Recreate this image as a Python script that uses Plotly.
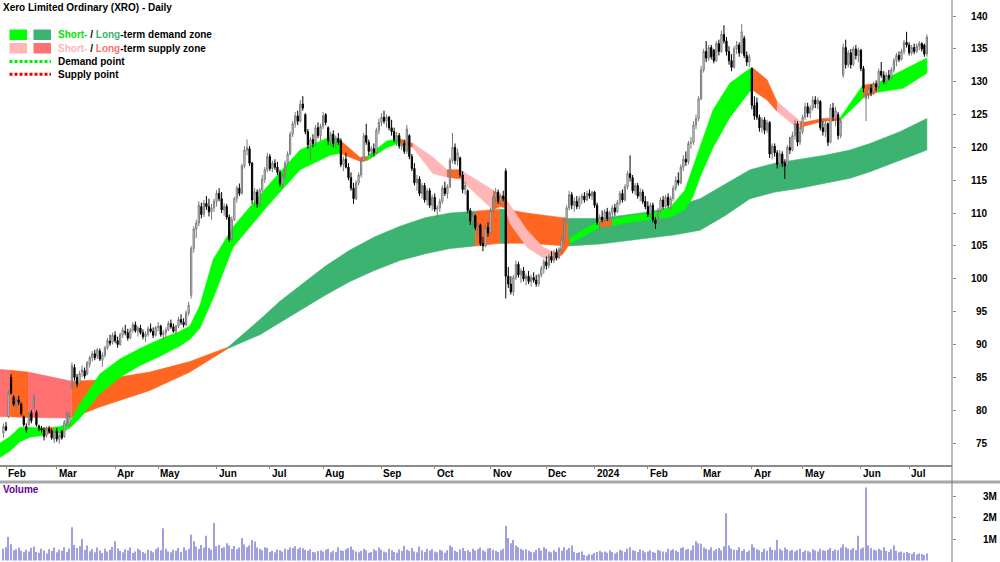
import plotly.graph_objects as go

# ---------------- data (trading-day index 0 = 31 Jan 2023 ... 364 = 10 Jul 2024) ----------------
open_ = [
    76.5,77.5,79.0,85.0,82.0,80.8,81.6,80.9,79.0,77.5,77.8,79.6,80.3,79.7,77.6,77.2,77.0,76.2,77.2,76.8,75.6,
    76.8,75.6,76.8,76.0,78.0,77.8,83.5,86.5,85.0,84.0,85.8,86.0,85.5,87.0,88.0,88.6,88.2,89.0,87.6,88.4,89.5,90.5,90.4,
    91.4,90.6,90.0,91.5,92.0,91.8,91.0,92.2,93.0,92.0,92.5,91.8,91.2,91.6,92.4,92.0,91.4,
    92.6,92.8,91.5,91.8,92.2,93.2,92.7,92.0,92.8,93.8,93.4,93.0,94.8,97.5,104.6,107.6,108.5,111.0,109.8,111.5,111.0,110.2,110.8,
    111.8,113.0,112.2,110.5,111.0,109.4,106.0,109.0,112.2,113.8,113.0,117.2,119.6,119.8,117.6,112.0,113.2,111.4,113.5,115.2,116.6,
    118.6,116.8,117.6,117.0,116.2,114.4,115.6,117.6,119.0,122.0,123.6,124.8,124.0,126.6,125.0,122.4,120.4,121.2,120.6,123.0,121.8,
    123.2,125.0,123.0,121.0,122.0,120.6,121.4,121.0,117.4,118.2,117.0,115.4,113.8,112.2,114.6,115.8,118.0,121.8,120.8,119.4,119.8,119.2,122.6,
    123.8,124.6,124.0,124.6,123.0,122.4,121.2,121.8,120.2,120.6,119.4,121.8,118.6,116.8,114.6,115.2,113.0,114.2,112.0,113.4,111.2,
    112.4,110.6,110.8,111.8,113.8,113.0,114.0,118.0,120.0,118.0,118.4,115.8,113.6,113.4,110.4,108.8,109.6,107.8,108.2,105.4,105.0,107.8,
    107.0,110.4,112.4,113.2,111.8,112.6,116.4,100.4,99.2,98.0,100.2,102.2,100.6,101.2,100.0,100.4,99.6,100.2,99.8,99.2,100.6,101.6,
    102.6,102.0,103.4,102.8,104.0,103.2,104.4,106.0,109.0,110.8,112.8,111.2,111.8,111.0,112.2,112.6,112.0,113.0,112.6,
    113.2,111.2,108.6,109.4,109.0,110.2,109.2,110.0,110.8,110.2,111.6,113.0,112.0,114.0,116.0,115.4,113.4,114.2,112.6,113.2,111.8,
    111.0,109.8,111.2,109.0,108.4,110.4,112.0,111.0,112.4,111.2,112.2,113.8,115.0,114.6,117.0,118.2,117.8,120.6,120.8,123.4,124.4,
    127.4,131.8,134.6,133.6,135.2,134.8,133.2,135.8,134.6,137.2,136.2,134.6,133.2,132.2,135.0,135.6,134.4,136.6,134.0,133.0,
    132.0,126.4,126.8,124.6,123.0,124.2,122.6,123.8,119.0,120.2,119.2,117.4,119.0,117.6,117.2,120.0,119.6,121.8,123.6,120.8,
    122.4,124.6,126.2,125.2,126.0,127.2,126.6,127.0,123.0,122.4,123.6,120.8,126.0,124.6,125.0,121.8,131.0,135.2,132.6,134.4,132.6,135.0,134.0,
    134.8,132.0,127.4,128.2,129.0,128.4,129.6,129.2,131.6,131.0,130.0,131.0,130.6,131.8,133.2,134.0,133.4,134.6,136.0,
    135.6,134.4,135.2,134.6,135.4,135.8,135.6,134.2,
]
high = [
    78.0,78.2,83.0,85.5,82.3,82.0,82.2,81.2,79.2,78.0,79.8,80.0,82.5,80.0,77.8,77.6,77.4,77.5,77.6,77.2,77.0,
    77.3,76.5,77.0,78.5,79.8,79.8,87.3,87.0,85.5,86.0,86.8,86.5,87.5,88.3,89.0,89.2,89.5,89.4,88.8,89.8,91.0,91.5,91.8,
    92.0,91.2,91.8,92.6,93.0,92.4,92.5,93.4,93.5,92.8,93.0,92.3,92.0,92.8,93.2,92.6,92.8,
    93.4,93.0,92.2,92.6,93.6,93.8,93.2,93.0,94.2,94.6,94.0,95.2,96.5,105.0,108.0,109.0,111.8,111.6,112.0,112.6,112.2,111.4,112.2,
    113.5,113.8,113.2,111.5,111.4,109.8,109.5,112.5,114.2,114.5,117.5,120.2,121.2,120.2,117.8,113.8,113.6,113.8,115.8,117.0,119.2,
    119.0,118.0,118.2,117.8,116.6,116.0,118.0,119.4,122.4,124.0,125.4,125.6,127.2,127.8,125.2,122.8,121.6,122.0,123.4,123.8,123.6,
    125.4,125.2,123.2,122.4,122.6,121.8,122.2,121.4,118.6,119.2,117.6,116.2,114.6,115.0,116.2,118.4,122.2,123.6,121.2,120.2,120.6,123.0,124.4,
    125.2,125.6,125.0,124.8,124.2,123.0,122.4,122.2,121.0,121.2,123.4,122.0,119.0,117.6,115.8,115.6,114.6,114.6,113.8,113.8,112.8,
    113.0,111.2,112.2,114.2,114.8,114.4,118.4,122.2,120.6,119.8,118.6,116.4,114.8,113.6,110.8,110.2,109.8,108.6,108.4,106.4,108.2,108.6,
    110.8,112.8,113.8,113.6,113.0,113.4,116.8,101.8,100.4,100.6,102.8,102.6,101.6,101.8,100.8,101.2,100.6,101.0,100.6,100.8,102.0,103.0,
    103.4,103.8,104.2,104.4,104.6,104.8,106.4,109.4,111.2,113.4,113.2,112.4,112.6,112.6,113.0,113.2,113.4,113.6,113.4,
    113.4,111.6,109.8,110.4,110.6,110.8,110.4,111.2,111.4,112.0,113.4,113.6,114.4,116.4,118.8,115.8,114.6,114.6,113.8,113.6,112.6,
    111.8,111.6,111.6,109.4,110.8,112.4,112.6,112.8,113.0,112.6,114.2,115.6,116.2,117.4,118.8,119.4,121.0,121.6,124.0,125.0,127.8,
    132.4,135.0,136.2,135.6,135.6,135.0,136.2,136.4,137.8,138.6,136.8,135.4,134.2,135.4,136.2,136.0,138.8,137.0,134.6,134.2,
    132.2,127.8,127.6,125.0,124.6,124.6,124.2,124.0,120.6,120.6,119.6,119.6,119.4,118.2,120.4,121.6,122.4,124.2,124.0,123.0,
    125.0,126.8,126.8,126.4,127.8,127.8,127.6,127.2,124.0,124.2,123.8,126.6,126.8,126.2,125.4,124.4,135.8,136.4,134.8,135.0,135.4,135.6,135.2,
    135.0,132.4,128.6,129.4,129.6,130.0,130.2,132.0,133.0,131.6,131.4,131.8,132.2,133.6,134.4,134.6,135.0,136.4,137.6,
    136.0,135.6,135.8,135.8,136.2,136.0,135.8,137.2,
]
low = [
    75.8,76.8,78.8,82.4,80.6,80.3,80.8,79.2,77.5,76.6,77.5,78.0,80.2,77.5,76.8,76.6,75.4,75.8,76.5,75.5,75.0,
    75.2,74.9,75.5,75.8,77.6,77.5,83.2,84.5,83.5,83.8,85.0,84.8,85.3,86.5,87.4,87.6,87.8,87.5,86.6,88.0,89.2,89.8,90.0,
    90.2,89.5,89.8,91.0,91.4,90.6,90.8,91.8,91.8,91.2,91.5,90.8,90.4,91.2,91.8,91.0,91.2,
    92.0,91.2,90.6,91.0,92.0,92.4,91.8,91.6,92.5,93.0,92.6,92.8,94.4,97.0,104.0,106.2,108.0,109.2,109.4,110.5,109.5,109.0,110.2,
    111.0,111.8,110.0,109.6,109.0,105.6,105.8,108.8,111.6,112.6,112.8,116.8,118.8,117.2,111.4,111.0,110.8,111.0,113.2,114.6,116.2,
    116.4,116.2,116.6,115.8,114.0,113.8,115.2,117.2,118.8,121.6,123.0,123.4,123.8,125.6,122.0,119.8,118.0,120.0,120.2,121.4,121.0,
    122.8,123.4,120.4,120.2,120.0,119.8,120.4,117.0,116.4,116.8,115.0,113.4,111.4,112.0,114.2,115.4,117.8,120.4,118.8,118.4,118.6,119.0,122.0,
    123.2,123.6,123.0,122.6,121.8,120.8,120.2,119.8,119.6,119.0,119.0,118.2,116.4,114.2,113.4,112.6,112.2,111.6,111.2,110.8,110.4,
    110.2,109.4,110.2,111.4,112.6,112.2,113.8,117.6,117.4,117.2,115.4,113.0,112.8,110.0,108.2,108.0,107.4,106.6,105.0,104.2,104.8,106.4,
    106.8,110.0,111.6,111.4,111.2,111.8,97.0,98.6,97.6,97.4,99.8,100.2,99.4,99.6,99.0,99.2,98.8,99.4,98.8,98.8,100.2,100.8,
    101.4,101.6,102.4,102.4,102.8,103.0,104.0,105.6,108.4,110.4,110.6,110.2,110.6,110.6,111.4,111.6,111.8,112.2,112.0,
    110.8,108.2,107.6,108.6,108.6,108.8,108.6,109.4,109.6,110.0,111.2,111.6,111.8,113.6,114.8,113.0,112.8,112.2,111.8,111.4,110.6,
    109.4,109.2,108.6,107.6,108.2,110.0,110.6,110.8,110.8,110.4,111.8,113.4,114.2,114.4,116.4,117.2,117.4,119.8,120.4,122.8,124.0,
    127.2,131.4,133.0,133.2,133.4,132.8,133.0,134.0,134.4,135.8,134.0,132.6,131.6,132.0,134.2,133.8,134.2,133.6,132.4,132.2,
    125.8,124.2,124.2,122.4,122.2,122.0,122.2,118.4,118.2,118.6,116.8,117.0,117.0,115.2,117.0,119.0,119.4,121.2,120.2,120.4,
    122.0,124.2,124.6,124.4,125.6,126.0,125.8,122.6,121.8,121.6,120.2,120.6,124.0,123.2,121.2,121.4,130.6,132.0,132.2,132.0,132.4,133.4,133.0,
    131.6,128.4,124.0,127.4,127.8,128.0,128.6,129.0,130.6,129.6,129.6,130.2,130.2,131.4,132.4,133.0,133.2,134.2,135.2,
    134.0,134.0,134.2,134.4,134.8,134.6,133.8,133.8,
]
close = [
    77.5,77.0,82.6,82.6,80.9,81.5,81.2,79.5,77.8,77.0,79.4,78.4,82.0,77.8,77.2,77.0,76.0,77.2,76.8,75.8,76.8,
    75.6,76.2,75.8,78.2,79.5,79.2,86.8,85.0,84.0,85.6,86.2,85.2,87.2,88.0,88.6,88.0,89.2,87.8,88.4,89.5,90.6,90.2,91.4,
    90.6,90.0,91.5,92.2,91.8,91.0,92.2,93.0,92.1,92.5,91.8,91.2,91.6,92.4,92.0,91.4,92.6,
    92.8,91.5,91.8,92.2,93.2,92.7,92.0,92.8,93.8,93.4,93.0,94.8,96.0,104.6,107.6,108.5,111.2,109.8,111.5,111.0,110.2,110.8,111.8,
    113.0,112.2,110.5,111.0,109.4,106.0,109.0,112.2,113.8,113.0,117.2,119.6,120.0,117.6,112.0,113.2,111.4,113.5,115.2,116.6,118.6,
    116.8,117.6,117.0,116.2,114.4,115.6,117.6,119.0,122.0,123.6,124.8,124.0,126.6,126.0,122.4,120.4,121.2,120.6,123.0,121.8,123.2,
    124.8,123.8,121.0,122.0,120.6,121.4,120.8,117.4,118.2,117.0,115.4,113.8,112.2,114.6,115.8,118.0,121.8,120.8,119.4,119.8,119.2,122.6,123.8,
    124.6,124.0,124.6,123.0,122.4,121.2,121.8,120.2,120.6,119.4,122.8,118.6,116.8,114.6,115.2,113.0,114.2,112.0,113.4,111.2,112.4,
    110.6,110.8,111.8,113.8,113.0,114.0,118.0,120.0,118.0,119.2,115.8,113.6,114.2,110.4,108.8,109.6,107.8,108.2,105.4,105.0,107.8,107.0,
    110.4,112.4,113.2,111.8,112.6,112.2,100.4,99.2,98.0,100.2,102.2,100.6,101.2,100.0,100.4,99.6,100.2,99.8,99.2,100.6,101.6,102.6,
    102.0,103.4,102.8,104.0,103.2,104.4,106.0,109.0,110.8,112.8,111.2,111.8,111.0,112.2,112.6,112.0,113.0,112.6,113.2,
    111.2,108.6,109.4,109.0,110.2,109.2,110.0,110.8,110.2,111.6,113.0,112.0,114.0,116.0,115.4,113.4,114.2,112.6,113.2,111.8,111.0,
    109.8,111.2,109.0,108.4,110.4,112.0,111.0,112.4,111.2,112.2,113.8,115.0,114.6,117.0,118.2,117.8,120.6,120.8,123.4,124.4,127.4,
    131.8,134.6,133.6,135.2,133.8,133.2,135.8,134.6,137.2,136.2,134.6,133.2,132.2,135.0,135.6,134.4,137.6,134.0,133.0,133.8,
    126.4,124.8,124.6,123.0,124.2,122.6,123.8,119.0,120.2,119.2,117.4,119.0,117.6,117.2,120.0,119.6,121.8,123.6,120.8,122.4,
    124.6,126.2,125.2,126.0,127.2,126.6,127.2,123.0,122.4,123.6,120.8,126.0,124.6,125.6,121.8,124.0,135.2,132.6,134.4,132.6,135.0,134.0,134.8,
    132.0,129.0,128.2,129.0,128.4,129.6,129.2,131.6,131.0,130.0,131.0,130.6,131.8,133.2,134.0,133.4,134.6,136.0,135.6,
    134.4,135.2,134.6,135.4,135.8,135.0,134.2,136.8,
]
volume_m = [
    0.55,0.62,1.10,0.75,0.48,0.52,0.60,0.45,0.38,0.50,0.42,0.58,0.65,0.40,0.36,0.55,0.47,0.33,0.52,0.44,0.61,
    0.38,0.50,0.45,0.62,0.40,0.56,1.55,0.72,0.58,0.66,1.00,0.49,0.70,0.43,0.52,0.38,0.60,0.47,0.35,0.55,0.42,0.50,0.63,
    0.90,0.56,0.44,0.38,0.52,0.47,0.60,0.35,0.42,0.55,0.48,0.40,0.33,0.50,0.45,0.38,0.52,
    0.60,0.48,1.50,0.55,0.42,0.38,0.50,0.45,0.58,0.40,0.62,0.48,0.55,1.20,0.90,0.65,0.55,0.72,0.60,1.15,0.58,0.50,1.75,
    0.66,0.72,0.58,0.62,0.80,0.70,0.55,0.68,0.52,0.60,1.05,0.75,0.62,0.70,0.95,0.88,0.60,0.55,0.48,0.62,0.58,
    0.40,0.45,0.38,0.52,0.48,0.42,0.55,0.50,0.62,0.58,0.66,0.54,0.60,0.57,0.50,0.45,0.52,0.40,0.38,0.44,0.48,
    0.42,0.50,0.55,0.38,0.45,0.40,0.62,0.48,0.44,0.52,0.58,0.65,0.50,0.42,0.38,0.45,0.55,0.48,0.36,0.40,0.52,0.45,0.60,
    0.50,0.42,0.38,0.55,0.48,0.40,0.36,0.52,0.44,0.68,0.50,0.45,0.58,0.42,0.38,0.65,0.48,0.40,0.55,0.46,0.52,
    0.42,0.38,0.50,0.45,0.36,0.48,0.70,0.62,0.45,0.40,0.52,0.58,0.44,0.48,0.40,0.55,0.46,0.52,0.60,0.48,0.42,0.56,
    0.58,0.50,0.45,0.40,0.48,0.55,1.60,1.05,0.80,0.95,0.70,0.62,0.55,0.48,0.52,0.45,0.40,0.38,0.50,0.58,0.46,0.62,
    0.55,0.42,0.38,0.48,0.40,0.60,0.45,0.62,0.50,0.58,0.70,0.40,0.35,0.38,0.42,0.25,0.22,0.30,0.28,
    0.35,0.40,0.45,0.38,0.42,0.36,0.48,0.40,0.33,0.38,0.50,0.45,0.40,0.55,0.62,0.48,0.44,0.40,0.52,0.46,0.38,
    0.42,0.48,0.40,0.36,0.50,0.45,0.42,0.38,0.55,0.48,0.52,0.46,0.40,0.58,0.62,0.50,0.55,0.48,0.70,0.90,0.80,
    0.78,0.60,0.55,0.50,0.62,0.45,0.52,0.58,0.48,0.66,2.20,0.70,0.55,0.50,0.48,0.62,0.44,0.52,0.40,0.46,
    0.75,0.60,0.52,0.48,0.40,0.55,0.45,0.62,0.50,0.48,0.95,0.55,0.46,0.60,0.52,0.45,0.50,0.42,0.48,0.55,
    0.40,0.48,0.44,0.38,0.52,0.46,0.42,0.55,0.48,0.45,0.50,0.58,0.44,0.52,0.48,0.60,0.75,0.62,0.55,0.50,0.58,0.48,1.15,
    0.55,0.60,3.40,0.70,0.58,0.50,0.46,0.55,0.48,0.62,0.44,0.40,0.52,0.70,0.45,0.38,0.42,0.36,0.40,
    0.35,0.30,0.38,0.28,0.33,0.30,0.26,0.32,
]

# month ticks (trading-day index of first session of each month)
month_idx = [1, 21, 44, 61, 84, 105, 126, 149, 170, 192, 214, 233, 254, 275, 295, 315, 338, 357]
month_lbl = ["Feb", "Mar", "Apr", "May", "Jun", "Jul", "Aug", "Sep", "Oct", "Nov", "Dec", "2024",
             "Feb", "Mar", "Apr", "May", "Jun", "Jul"]
price_ticks = [75, 80, 85, 90, 95, 100, 105, 110, 115, 120, 125, 130, 135, 140]
vol_ticks = [1, 2, 3]
vol_lbl = ["1M", "2M", "3M"]

# long-term zone: node positions, upper/lower edges, segment state
lt_x = [-1.4, 2.6, 9.7, 26.9, 38.0, 57.7, 73.5, 88.5, 101.1, 109.0, 116.9, 126.8, 136.6, 146.4, 156.3,
        166.2, 176.0, 185.9, 195.7, 197.7, 206.4, 222.5, 235.1, 254.9, 264.7, 274.6, 284.4, 294.3,
        304.1, 314.0, 323.8, 333.7, 341.6, 353.4, 364.0]
lt_up = [86.2, 86.1, 85.8, 84.4, 84.6, 85.8, 87.4, 89.6, 93.8, 96.6, 99.0, 101.9, 104.4, 106.4, 108.0,
         109.3, 110.0, 110.3, 110.6, 110.6, 110.0, 109.2, 109.2, 110.2, 111.0, 112.2, 114.4, 116.6,
         117.6, 118.2, 118.8, 119.6, 120.6, 122.4, 124.4]
lt_lo = [79.0, 79.0, 78.9, 78.8, 80.5, 83.0, 85.8, 89.4, 91.5, 93.3, 95.2, 97.5, 99.6, 101.3, 102.8,
         103.8, 104.6, 105.0, 105.4, 105.4, 105.4, 105.0, 105.3, 106.2, 106.7, 107.4, 109.6, 112.2,
         113.2, 113.8, 114.5, 115.3, 116.3, 118.0, 119.6]
lt_state = "SOSOOOOGGGGGGGGGGOGOOGGGGGGGGGGGGG"

# short-term zone
st_x = [-1.4, 2.6, 6.5, 10.5, 16.4, 19.5, 22.3, 26.2, 30.2, 38.0, 45.9, 53.8, 61.7, 69.6, 73.5, 77.5,
        82.6, 90.5, 98.4, 103.9, 116.9, 128.7, 132.7, 140.5, 143.3, 151.2, 156.3, 161.4, 169.3, 174.8,
        179.9, 193.0, 195.7, 197.7, 199.7, 206.4, 212.7, 217.4, 220.6, 223.3, 229.2, 235.1, 239.9, 246.9,
        254.9, 262.7, 268.6, 271.8, 274.6, 279.7, 286.4, 294.3, 295.4, 301.0, 304.9, 314.0, 315.2, 323.0,
        329.8, 338.8, 339.6, 344.5, 354.6, 364.0]
st_up = [75.0, 76.0, 77.4, 77.4, 77.3, 77.4, 77.5, 78.2, 81.0, 85.5, 87.8, 89.4, 90.8, 92.0, 92.8, 96.0,
         102.9, 107.9, 111.5, 114.0, 119.6, 121.6, 121.1, 118.5, 118.6, 121.0, 121.3, 120.6, 118.5, 116.6,
         116.6, 113.5, 112.6, 112.4, 111.2, 107.4, 104.8, 104.0, 105.0, 106.2, 107.6, 108.8, 109.0, 109.6,
         110.0, 110.8, 113.5, 117.0, 120.0, 125.7, 129.8, 132.0, 132.1, 130.3, 127.0, 124.0, 123.8, 124.4,
         124.5, 129.5, 129.5, 129.8, 131.8, 133.6]
st_lo = [72.8, 73.8, 75.2, 75.9, 76.2, 76.7, 76.5, 77.3, 78.8, 82.5, 85.0, 86.8, 88.2, 89.8, 90.8, 92.5,
         97.0, 104.8, 108.5, 111.0, 116.6, 118.8, 119.1, 117.9, 118.0, 120.0, 120.7, 120.0, 116.0, 115.5,
         115.2, 110.5, 111.0, 110.8, 108.4, 104.8, 103.2, 103.0, 103.8, 105.4, 106.6, 107.9, 108.1, 108.6,
         109.0, 109.4, 110.5, 112.5, 115.5, 120.0, 124.6, 128.6, 128.7, 127.2, 125.5, 122.6, 123.2, 124.0,
         124.1, 127.5, 127.7, 128.4, 129.0, 131.3]
st_state = "GGGGOGGGGGGGGGGGGGGGGGOOGGOPPOPOOPPPPOOGGOGGGGGGGGGGOOPOOOGOOGG"

# ---------------- styling ----------------
FONT = "Liberation Sans, Arial, sans-serif"
ST_COL = {"G": "#00FF00", "O": "#FF6622", "P": "#FFB6B6", "S": "#FF7070"}
LT_COL = {"G": "#3CB371", "O": "#FF6622", "P": "#FFB6B6", "S": "#FF7070"}

W, H = 1000, 562
X_LEFT, X_RIGHT = -1.364, 373.9
Y_LOW, Y_HIGH = 71.66, 142.44
PLOT_R = 0.952


def py(ypx):
    return 1 - ypx / H


def px(xpx):
    return xpx / W


fig = go.Figure()


def add_zone(xs, up, lo, state, cmap):
    n = min(len(state), len(xs) - 1)
    i = 0
    while i < n:
        j = i
        while j + 1 < n and state[j + 1] == state[i]:
            j += 1
        xx = xs[i:j + 2] + xs[i:j + 2][::-1]
        yy = up[i:j + 2] + lo[i:j + 2][::-1]
        c = cmap[state[i]]
        fig.add_trace(go.Scatter(x=xx, y=yy, fill="toself", fillcolor=c, mode="lines",
                                 line=dict(color=c, width=0.6),
                                 hoverinfo="skip", showlegend=False, xaxis="x", yaxis="y"))
        i = j + 1


add_zone(lt_x, lt_up, lt_lo, lt_state, LT_COL)
add_zone(st_x, st_up, st_lo, st_state, ST_COL)

idx = list(range(len(close)))
fig.add_trace(go.Candlestick(
    x=idx, open=open_, high=high, low=low, close=close, xaxis="x", yaxis="y3",
    increasing=dict(line=dict(color="#7a7a7a", width=1), fillcolor="#f4f4f4"),
    decreasing=dict(line=dict(color="#000000", width=1), fillcolor="#000000"),
    whiskerwidth=0, showlegend=False, hoverinfo="skip"))

fig.add_trace(go.Bar(x=list(range(len(volume_m))), y=volume_m, xaxis="x2", yaxis="y2",
                     marker=dict(color="#a0a0e0", line=dict(width=0)), width=0.45,
                     showlegend=False, hoverinfo="skip"))

shapes = [
    dict(type="line", xref="paper", yref="paper", x0=0, x1=PLOT_R, y0=py(466), y1=py(466),
         line=dict(color="#8c8c8c", width=2)),
    dict(type="line", xref="paper", yref="paper", x0=0, x1=1, y0=py(482), y1=py(482),
         line=dict(color="#a8a8a8", width=3)),
    dict(type="line", xref="paper", yref="paper", x0=PLOT_R, x1=PLOT_R, y0=0, y1=1,
         line=dict(color="#7a7a7a", width=1)),
    # legend swatches
    dict(type="rect", xref="paper", yref="paper", x0=px(9.5), x1=px(27), y0=py(40), y1=py(29.5),
         fillcolor="#00FF00", line=dict(width=0)),
    dict(type="rect", xref="paper", yref="paper", x0=px(33.5), x1=px(51), y0=py(40), y1=py(29.5),
         fillcolor="#3CB371", line=dict(width=0)),
    dict(type="rect", xref="paper", yref="paper", x0=px(9.5), x1=px(27), y0=py(53.5), y1=py(43),
         fillcolor="#FFB6B6", line=dict(width=0)),
    dict(type="rect", xref="paper", yref="paper", x0=px(33.5), x1=px(51), y0=py(53.5), y1=py(43),
         fillcolor="#FF7070", line=dict(width=0)),
    dict(type="line", xref="paper", yref="paper", x0=px(9.5), x1=px(51), y0=py(61.5), y1=py(61.5),
         line=dict(color="#00EE00", width=3, dash="3px,2px")),
    dict(type="line", xref="paper", yref="paper", x0=px(9.5), x1=px(51), y0=py(74.3), y1=py(74.3),
         line=dict(color="#EE0000", width=3, dash="3px,2px")),
]

ann = []


def text(x, y, s, size=10, color="#000000", xanchor="left", xref="paper", yref="paper", xshift=0):
    ann.append(dict(x=x, y=y, xref=xref, yref=yref, text=s, showarrow=False, xanchor=xanchor,
                    yanchor="middle", xshift=xshift,
                    font=dict(family=FONT, size=size, color=color), borderpad=0))


text(px(1.5), py(7), "<b>Xero Limited Ordinary (XRO) - Daily</b>", size=10)
text(px(56.5), py(35), "<b><span style='color:#00E600'>Short-</span> / "
     "<span style='color:#3CB371'>Long</span>-term demand zone</b>")
text(px(56.5), py(48.3), "<b><span style='color:#FFB6B6'>Short-</span> / "
     "<span style='color:#FF7070'>Long</span>-term supply zone</b>")
text(px(56.5), py(61.7), "<b>Demand point</b>")
text(px(56.5), py(74.3), "<b>Supply point</b>")
text(px(1.5), py(489.5), "<b>Volume</b>", color="#660099")

for v in price_ticks:
    text(px(989), v, "<b>%d</b>" % v, xanchor="right", yref="y")
for v, s in zip(vol_ticks, vol_lbl):
    text(px(998), v, "<b>%s</b>" % s, xanchor="right", yref="y2")
for i, s in zip(month_idx, month_lbl):
    text(i, py(474), "<b>%s</b>" % s, xref="x", xshift=1.0)

fig.update_layout(
    width=W, height=H, margin=dict(l=0, r=0, t=0, b=0),
    paper_bgcolor="white", plot_bgcolor="white", showlegend=False,
    xaxis=dict(domain=[0, PLOT_R], range=[X_LEFT, X_RIGHT], showgrid=False, zeroline=False,
               showline=False, tickvals=month_idx, ticks="outside", ticklen=3, tickcolor="#8c8c8c",
               showticklabels=False, rangeslider=dict(visible=False), anchor="y", fixedrange=True),
    yaxis=dict(domain=[1 - 465 / H, 1], range=[Y_LOW, Y_HIGH], showgrid=False, zeroline=False,
               side="right", tickvals=price_ticks, ticks="outside", ticklen=3, tickcolor="#8c8c8c",
               showticklabels=False, anchor="x", showline=False),
    yaxis3=dict(overlaying="y", range=[Y_LOW, Y_HIGH], visible=False, anchor="x"),
    xaxis2=dict(domain=[0, PLOT_R], range=[X_LEFT, X_RIGHT], visible=False, anchor="y2"),
    yaxis2=dict(domain=[0, 1 - 483 / H], range=[-0.07, 3.605], showgrid=False, zeroline=False,
                side="right", tickvals=vol_ticks, ticks="outside", ticklen=3, tickcolor="#8c8c8c",
                showticklabels=False, anchor="x2"),
    shapes=shapes, annotations=ann,
)

fig.write_html("out.html")
